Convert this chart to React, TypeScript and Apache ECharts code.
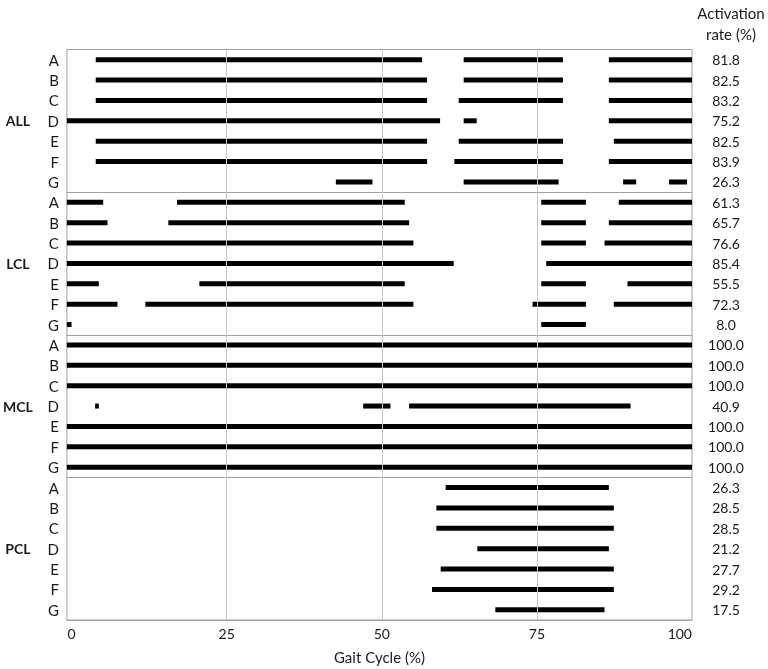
import React, { useEffect, useRef } from 'react';
import * as echarts from 'echarts';

// ---- data (gait cycle %, start/end of each active segment) ----
const X_MIN = -0.75; // left edge of the plot; segments that start at the edge begin here
const X_MAX = 100;
const xTickValues = [0, 25, 50, 75, 100];
const gridValues = [25, 50, 75];
const groups = ['ALL', 'LCL', 'MCL', 'PCL'];
const muscles = ['A', 'B', 'C', 'D', 'E', 'F', 'G'];

const allSegments: number[][][] = [
  [[3.9, 56.5], [63.2, 79.2], [86.6, 100]],
  [[3.9, 57.3], [63.2, 79.2], [86.6, 100]],
  [[3.9, 57.3], [62.4, 79.2], [86.6, 100]],
  [[X_MIN, 59.4], [63.2, 65.3], [86.6, 100]],
  [[3.9, 57.3], [62.4, 79.2], [87.4, 100]],
  [[3.9, 57.3], [61.7, 79.2], [86.6, 100]],
  [[42.6, 48.5], [63.2, 78.5], [88.9, 91.0], [96.3, 99.2]],
];
const lclSegments: number[][][] = [
  [[X_MIN, 5.1], [17.0, 53.7], [75.7, 82.9], [88.2, 100]],
  [[X_MIN, 5.8], [15.6, 54.4], [75.7, 82.9], [86.6, 100]],
  [[X_MIN, 55.1], [75.7, 82.9], [85.9, 100]],
  [[X_MIN, 61.6], [76.5, 100]],
  [[X_MIN, 4.4], [20.6, 53.7], [75.7, 82.9], [89.6, 100]],
  [[X_MIN, 7.4], [11.9, 55.1], [74.3, 82.9], [87.4, 100]],
  [[X_MIN, 0.0], [75.7, 82.9]],
];
const mclSegments: number[][][] = [
  [[X_MIN, 100]],
  [[X_MIN, 100]],
  [[X_MIN, 100]],
  [[3.8, 4.4], [47.0, 51.4], [54.4, 90.1]],
  [[X_MIN, 100]],
  [[X_MIN, 100]],
  [[X_MIN, 100]],
];
const pclSegments: number[][][] = [
  [[60.3, 86.6]],
  [[58.8, 87.4]],
  [[58.8, 87.4]],
  [[65.4, 86.6]],
  [[59.5, 87.4]],
  [[58.1, 87.4]],
  [[68.3, 85.9]],
];

const allRates = ['81.8', '82.5', '83.2', '75.2', '82.5', '83.9', '26.3'];
const lclRates = ['61.3', '65.7', '76.6', '85.4', '55.5', '72.3', '8.0'];
const mclRates = ['100.0', '100.0', '100.0', '40.9', '100.0', '100.0', '100.0'];
const pclRates = ['26.3', '28.5', '28.5', '21.2', '27.7', '29.2', '17.5'];

const FONT = 'Lato, "Open Sans", sans-serif';
const TEXT = '#1a1a1a';

export default function App() {
  const ref = useRef<HTMLDivElement>(null);

  useEffect(() => {
    if (!ref.current) return;
    const chart = echarts.init(ref.current, undefined, { renderer: 'svg' });

    const segmentGroups = [allSegments, lclSegments, mclSegments, pclSegments];
    const rateGroups = [allRates, lclRates, mclRates, pclRates];

    const rowIds: string[] = [];
    const rowLetters: string[] = [];
    const rowRates: string[] = [];
    const rowGroupLabel: string[] = [];
    const barData: number[][] = [];

    groups.forEach((g, gi) => {
      muscles.forEach((m, mi) => {
        const idx = rowIds.length;
        rowIds.push(g + '-' + m);
        rowLetters.push(m);
        rowRates.push(rateGroups[gi][mi]);
        rowGroupLabel.push(mi === 3 ? g : '');
        segmentGroups[gi][mi].forEach((seg) => {
          barData.push([idx, seg[0], seg[1]]);
        });
      });
    });

    const option: any = {
      animation: false,
      textStyle: { fontFamily: FONT },
      grid: {
        left: 66.7,
        right: 76,
        top: 49.5,
        bottom: 49,
        show: true,
        borderColor: '#a0a0a0',
        borderWidth: 1,
        backgroundColor: 'transparent',
      },
      xAxis: {
        type: 'value',
        min: X_MIN,
        max: X_MAX,
        axisLine: { show: false },
        axisTick: { show: false },
        splitLine: { show: false },
        axisLabel: {
          customValues: xTickValues,
          color: TEXT,
          fontSize: 14,
          fontFamily: FONT,
          margin: 6,
          alignMaxLabel: 'right',
        },
        name: 'Gait Cycle (%)',
        nameLocation: 'middle',
        nameGap: 29,
        nameTextStyle: { color: TEXT, fontSize: 15, fontFamily: FONT },
      },
      yAxis: [
        {
          type: 'category',
          data: rowIds,
          inverse: true,
          position: 'left',
          axisLine: { show: false },
          axisTick: { show: false },
          axisLabel: {
            interval: 0,
            color: TEXT,
            fontSize: 15,
            fontFamily: FONT,
            margin: 8,
            formatter: (_v: string, i: number) => rowLetters[i],
          },
          splitLine: {
            show: true,
            interval: (i: number) => i > 0 && i % 7 === 0,
            lineStyle: { color: '#a0a0a0', width: 1 },
          },
        },
        {
          type: 'category',
          data: rowIds,
          inverse: true,
          position: 'right',
          axisLine: { show: false },
          axisTick: { show: false },
          splitLine: { show: false },
          axisLabel: {
            interval: 0,
            color: TEXT,
            fontSize: 14,
            fontFamily: FONT,
            align: 'center',
            margin: 34,
            formatter: (_v: string, i: number) => rowRates[i],
          },
        },
        {
          type: 'category',
          data: rowIds,
          inverse: true,
          position: 'left',
          axisLine: { show: false },
          axisTick: { show: false },
          splitLine: { show: false },
          axisLabel: {
            interval: 0,
            color: TEXT,
            fontSize: 14,
            fontWeight: 'bold',
            fontFamily: FONT,
            align: 'center',
            margin: 49,
            formatter: (_v: string, i: number) => rowGroupLabel[i],
          },
        },
      ],
      graphic: [
        {
          type: 'text',
          x: 731,
          y: 2,
          style: {
            text: 'Activation\nrate (%)',
            textAlign: 'center',
            fill: TEXT,
            fontSize: 15,
            fontFamily: FONT,
            lineHeight: 21,
          },
        },
      ],
      series: [
        {
          type: 'line',
          data: [],
          z: 1,
          silent: true,
          markLine: {
            silent: true,
            symbol: 'none',
            label: { show: false },
            lineStyle: { color: '#c8c8c8', type: 'solid', width: 1 },
            data: gridValues.map((v) => ({ xAxis: v })),
          },
        },
        {
          type: 'custom',
          z: 3,
          yAxisIndex: 0,
          encode: { x: [1, 2], y: 0 },
          data: barData,
          renderItem: (_params: any, api: any) => {
            const row = api.value(0);
            const p0 = api.coord([api.value(1), row]);
            const p1 = api.coord([api.value(2), row]);
            const h = 5;
            return {
              type: 'rect',
              shape: {
                x: p0[0],
                y: p0[1] - h / 2,
                width: Math.max(p1[0] - p0[0], 1),
                height: h,
              },
              style: { fill: '#000' },
            };
          },
        },
      ],
    };

    chart.setOption(option);
    return () => chart.dispose();
  }, []);

  return (
    <div
      ref={ref}
      style={{ position: 'fixed', left: 0, top: 0, width: 768, height: 669 }}
    />
  );
}
